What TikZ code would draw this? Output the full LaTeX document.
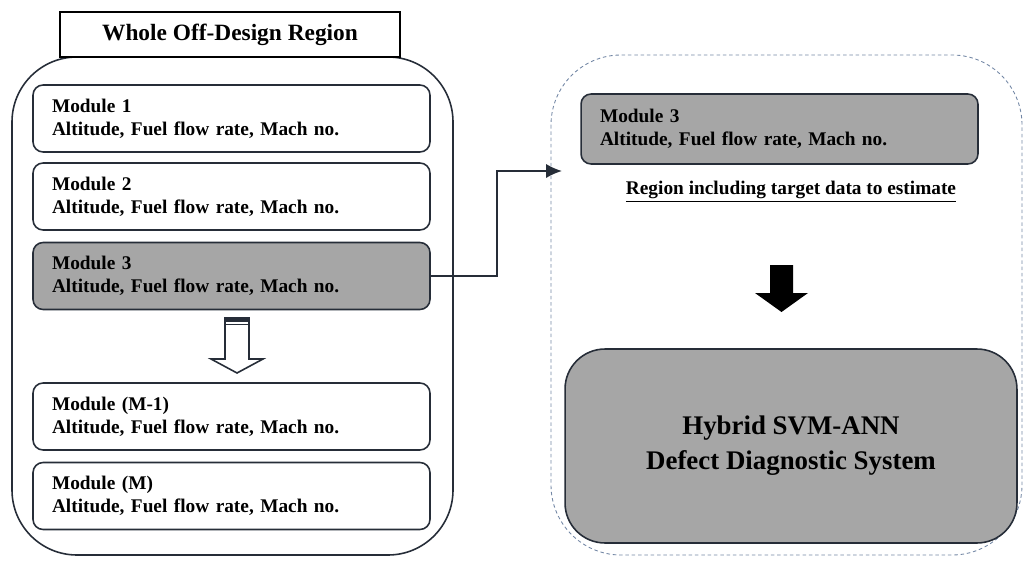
\documentclass[tikz,border=0pt]{standalone}
\usepackage{fontspec}
\setmainfont{Liberation Serif}
\usetikzlibrary{arrows.meta}
\definecolor{boxgray}{RGB}{166,166,166}
\definecolor{boxline}{RGB}{38,45,56}
\definecolor{dashgray}{RGB}{115,135,165}

\begin{document}
\begin{tikzpicture}[x=0.02cm, y=-0.02cm,
  every node/.style={font=\bfseries\fontsize{11}{13.2}\selectfont},
  module/.style={draw=boxline, line width=0.9pt, rounded corners=0.2cm, rectangle, minimum width=7.94cm, minimum height=1.34cm, text width=7.18cm, inner xsep=0.38cm, align=left}]
\useasboundingbox (0,0) rectangle (1025,565);

% Regions
\draw[boxline, line width=0.9pt, rounded corners=1.3cm] (12,57) rectangle (453,555);
\draw[dashgray, dash pattern=on 2pt off 1.6pt, line width=0.5pt, rounded corners=1.4cm] (551,55) rectangle (1022,555);
\node[draw, rectangle, fill=white, line width=1.6pt, minimum width=6.8cm, minimum height=0.9cm, font=\bfseries\fontsize{13.3}{15}\selectfont] (title) at (230,34.5) {Whole Off-Design Region};

% Boxes
\node[module] (mod1) at (231.5,118.5) {Module 1\\Altitude, Fuel flow rate, Mach no.};
\node[module] (mod2) at (231.5,196.5) {Module 2\\Altitude, Fuel flow rate, Mach no.};
\node[module, fill=boxgray] (mod3) at (231.5,276) {Module 3\\Altitude, Fuel flow rate, Mach no.};
\node[module] (modm1) at (231.5,416.5) {Module (M-1)\\Altitude, Fuel flow rate, Mach no.};
\node[module] (modm) at (231.5,496) {Module (M)\\Altitude, Fuel flow rate, Mach no.};

\node[module, fill=boxgray, minimum height=1.4cm] (target) at (779.5,129) {Module 3\\Altitude, Fuel flow rate, Mach no.};
\node (regionlbl) at (791,192) {\underline{Region including target data to estimate}};
\node[draw=boxline, line width=0.9pt, fill=boxgray, rounded corners=0.8cm, minimum width=9.04cm, minimum height=3.88cm, align=center, font=\bfseries\fontsize{15.3}{19.8}\selectfont] (hybrid) at (791,446) {Hybrid SVM-ANN\\Defect Diagnostic System};

% Block arrows
\draw[boxline, line width=0.9pt, fill=white] (225,318) -- (249,318) -- (249,359) -- (263,359) -- (237,373) -- (211,359) -- (225,359) -- cycle;
\fill[boxline] (225,318) rectangle (249,322);
\draw[boxline, line width=0.9pt] (225,324.5) -- (249,324.5);
\fill[black] (770,265) -- (793,265) -- (793,293) -- (808,293) -- (781.5,312) -- (755,293) -- (770,293) -- cycle;

% Arrows
\coordinate (entry) at (562,171);
\draw[boxline, line width=0.9pt, -{Latex[length=9pt,width=8pt]}] (mod3.east) -- ++(66,0) |- (entry);
\end{tikzpicture}
\end{document}
